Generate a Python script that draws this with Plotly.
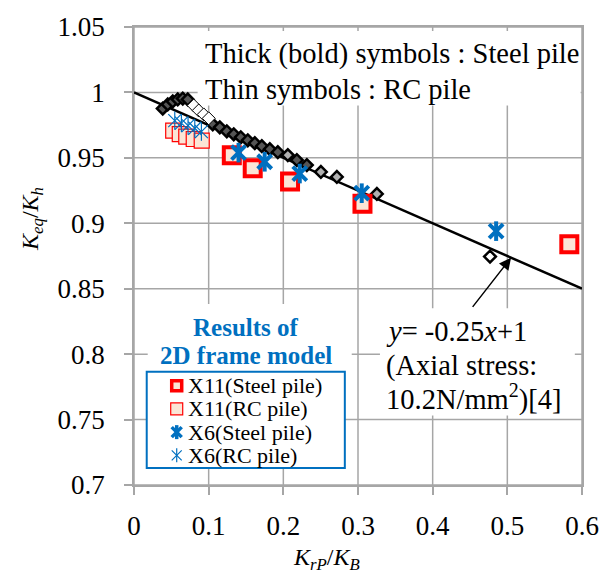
import plotly.graph_objects as go

# ---- data -------------------------------------------------------------
# 2D frame model X11, steel pile (bold squares)
x11_steel_x = [0.131, 0.159, 0.209, 0.306, 0.583]
x11_steel_y = [0.952, 0.942, 0.932, 0.915, 0.884]
# 2D frame model X11, RC pile (thin squares)
x11_rc_x = [0.0525, 0.0613, 0.070, 0.080, 0.0907]
x11_rc_y = [0.9708, 0.9682, 0.9663, 0.9644, 0.9631]
# 2D frame model X6, steel pile (bold asterisks)
x6_steel_x = [0.140, 0.175, 0.222, 0.305, 0.485]
x6_steel_y = [0.954, 0.947, 0.938, 0.923, 0.894]
# 2D frame model X6, RC pile (thin asterisks)
x6_rc_x = [0.0546, 0.0635, 0.0724, 0.0814, 0.0903]
x6_rc_y = [0.9784, 0.9766, 0.9746, 0.9726, 0.9700]

# other analysis cases (diamonds)
steel_dark_x = [0.0385, 0.0452, 0.0519, 0.0586, 0.0653, 0.0720,
                0.1055, 0.1149, 0.1243, 0.1336, 0.1430, 0.1524,
                0.1618, 0.1712, 0.1819, 0.1926, 0.2181, 0.2315]
steel_dark_y = [0.9877, 0.9908, 0.9931, 0.9946, 0.9953, 0.9946,
                0.9756, 0.9733, 0.9703, 0.9680, 0.9657, 0.9634,
                0.9612, 0.9589, 0.9566, 0.9543, 0.9483, 0.9445]
steel_light_x = [0.2060, 0.2503, 0.2717, 0.3253]
steel_light_y = [0.9521, 0.9392, 0.9354, 0.9224]
steel_white_x = [0.4768]
steel_white_y = [0.8746]
rc_diamond_x = [0.0800, 0.0867, 0.0934, 0.1001]
rc_diamond_y = [0.9900, 0.9862, 0.9832, 0.9802]

# design line  y = -0.25x + 1
fit_slope = -0.25
fit_intercept = 1.0
fit_x = [0.0, 0.6]

x_ticks = [0, 0.1, 0.2, 0.3, 0.4, 0.5, 0.6]
x_ticktext = ["0", "0.1", "0.2", "0.3", "0.4", "0.5", "0.6"]
y_ticks = [0.7, 0.75, 0.8, 0.85, 0.9, 0.95, 1.0, 1.05]
y_ticktext = ["0.7", "0.75", "0.8", "0.85", "0.9", "0.95", "1", "1.05"]

legend_labels = ["X11(Steel pile)", "X11(RC pile)", "X6(Steel pile)", "X6(RC pile)"]

# ---- styles -----------------------------------------------------------
FONT = "Liberation Serif"
RED = "#FF0000"
PEACH = "#FBE5D6"
BLUE = "#0070C0"
GRID = "#A6A6A6"

fig = go.Figure()

# design line
fig.add_trace(go.Scatter(
    x=fit_x, y=[fit_intercept + fit_slope * v for v in fit_x],
    mode="lines", line=dict(color="black", width=2.5), showlegend=False))

# diamonds
fig.add_trace(go.Scatter(
    x=steel_dark_x, y=steel_dark_y, mode="markers", showlegend=False,
    marker=dict(symbol="diamond", size=9, color="#555555",
                line=dict(color="black", width=2.5))))
fig.add_trace(go.Scatter(
    x=rc_diamond_x, y=rc_diamond_y, mode="markers", showlegend=False,
    marker=dict(symbol="diamond", size=10, color="white",
                line=dict(color="black", width=1))))
fig.add_trace(go.Scatter(
    x=steel_light_x, y=steel_light_y, mode="markers", showlegend=False,
    marker=dict(symbol="diamond", size=9, color="#B0B0B0",
                line=dict(color="black", width=2.5))))
fig.add_trace(go.Scatter(
    x=steel_white_x, y=steel_white_y, mode="markers", showlegend=False,
    marker=dict(symbol="diamond", size=9, color="white",
                line=dict(color="black", width=2.5))))

# X11 squares
sq_rc = dict(symbol="square", size=15, color=PEACH, line=dict(color=RED, width=1.2))
sq_steel = dict(symbol="square", size=16, color=PEACH, line=dict(color=RED, width=4))
fig.add_trace(go.Scatter(x=x11_rc_x, y=x11_rc_y, mode="markers",
                         marker=sq_rc, showlegend=False))
fig.add_trace(go.Scatter(x=x11_steel_x, y=x11_steel_y, mode="markers",
                         marker=sq_steel, showlegend=False))


# X6 asterisks (diagonal cross + vertical bar)
def star(xs, ys, size, width):
    for sym in ("x-thin", "line-ns"):
        fig.add_trace(go.Scatter(
            x=xs, y=ys, mode="markers", showlegend=False,
            marker=dict(symbol=sym, size=size, color=BLUE,
                        line=dict(color=BLUE, width=width))))


star(x6_rc_x, x6_rc_y, 13, 1.2)
star(x6_steel_x, x6_steel_y, 14, 4)

# ---- legend keys (placed inside the legend frame) ---------------------
LEG_KEY_X = 0.0572
LEG_ROWS = [0.7759, 0.7582, 0.7404, 0.7227]
LEG_TEXT_X = 0.1155
LEG_ROWS_DOM = [0.2169, 0.1664, 0.1156, 0.0651]

fig.add_trace(go.Scatter(x=[LEG_KEY_X], y=[LEG_ROWS[0]], mode="markers", showlegend=False,
                         marker=dict(symbol="square", size=10, color=PEACH,
                                     line=dict(color=RED, width=3.5))))
fig.add_trace(go.Scatter(x=[LEG_KEY_X], y=[LEG_ROWS[1]], mode="markers", showlegend=False,
                         marker=dict(symbol="square", size=12, color=PEACH,
                                     line=dict(color=RED, width=1.2))))
star([LEG_KEY_X], [LEG_ROWS[2]], 10, 3.5)
star([LEG_KEY_X], [LEG_ROWS[3]], 10, 1.2)

# ---- grid lines and white boxes (same shape layer, drawn in order) ----
shapes = []
for v in x_ticks:
    shapes.append(dict(type="line", xref="x", yref="y domain", x0=v, x1=v, y0=0, y1=1,
                       line=dict(color=GRID, width=1.5), layer="below"))
for v in y_ticks:
    shapes.append(dict(type="line", xref="x domain", yref="y", x0=0, x1=1, y0=v, y1=v,
                       line=dict(color=GRID, width=1.5), layer="below"))


def box(x0, x1, y0, y1, line=None):
    return dict(type="rect", xref="x domain", yref="y domain", x0=x0, x1=x1,
                y0=y0, y1=y1, fillcolor="white",
                line=line if line else dict(width=0), layer="below")


shapes += [
    box(0.142, 0.997, 0.8286, 0.9913),             # note box at top
    box(0.0306, 0.486, 0.247, 0.395),              # legend title background
    box(0.0284, 0.4706, 0.0369, 0.2473, dict(color=BLUE, width=2)),  # legend frame
    box(0.549, 0.984, 0.152, 0.386),               # equation box
]

ann = []


def text(x, y, s, size=28.5, color="black", xanchor="left", bold=False):
    if bold:
        s = "<b>" + s + "</b>"
    ann.append(dict(xref="x domain", yref="y domain", x=x, y=y, text=s,
                    showarrow=False, xanchor=xanchor, yanchor="middle",
                    font=dict(family=FONT, size=size, color=color)))


text(0.154, 0.940, "Thick (bold) symbols : Steel pile")
text(0.154, 0.864, "Thin symbols : RC pile")
text(0.558, 0.3362, "<i>y</i>= -0.25<i>x</i>+1")
text(0.558, 0.2603, "(Axial stress:")
text(0.558, 0.1909, "10.2N/mm<sup>2</sup>)[4]")
text(0.251, 0.3434, "Results of", size=25, color=BLUE, xanchor="center", bold=True)
text(0.251, 0.282, "2D frame model", size=25, color=BLUE, xanchor="center", bold=True)
for lbl, yy in zip(legend_labels, LEG_ROWS_DOM):
    text(LEG_TEXT_X, yy, lbl, size=22)

# axis titles
ann.append(dict(xref="x domain", yref="y domain", x=0.4304, y=-0.162,
                text="<i>K<sub>rP</sub></i>/<i>K<sub>B</sub></i>", showarrow=False,
                xanchor="center", yanchor="middle",
                font=dict(family=FONT, size=24, color="black")))
ann.append(dict(xref="x domain", yref="y domain", x=-0.2263, y=0.58,
                text="<i>K<sub>eq</sub></i>/<i>K<sub>h</sub></i>", showarrow=False,
                textangle=-90, xanchor="center", yanchor="middle",
                font=dict(family=FONT, size=24, color="black")))

# arrow pointing at the design line
arrow_x = 0.505
ann.append(dict(x=arrow_x, y=fit_intercept + fit_slope * arrow_x, xref="x", yref="y",
                ax=0.452, ay=0.835, axref="x", ayref="y", text="",
                showarrow=True, arrowhead=2, arrowsize=1.6, arrowwidth=1.5,
                arrowcolor="black"))

fig.update_layout(
    width=611, height=576,
    margin=dict(l=134, r=29, t=24, b=91),
    paper_bgcolor="white", plot_bgcolor="white",
    font=dict(family=FONT, size=27, color="black"),
    showlegend=False,
    shapes=shapes, annotations=ann,
    xaxis=dict(range=[0, 0.6], tickvals=x_ticks, ticktext=x_ticktext,
               showgrid=False,
               showline=True, linecolor=GRID, linewidth=1.5, mirror=True,
               ticks="outside", ticklen=8, tickcolor=GRID, tickwidth=1.5,
               ticklabelstandoff=8, zeroline=False,
               tickfont=dict(family=FONT, size=27, color="black")),
    yaxis=dict(range=[0.7, 1.05], tickvals=y_ticks, ticktext=y_ticktext,
               showgrid=False,
               showline=True, linecolor=GRID, linewidth=1.5, mirror=True,
               ticks="outside", ticklen=8, tickcolor=GRID, tickwidth=1.5,
               ticklabelstandoff=14, zeroline=False,
               tickfont=dict(family=FONT, size=27, color="black")),
)

fig.write_html("out.html")
